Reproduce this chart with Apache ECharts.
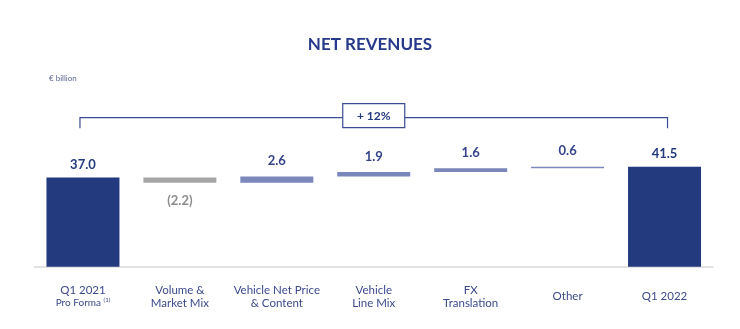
<!DOCTYPE html>
<html>
<head>
<meta charset="utf-8">
<style>
  html, body { margin: 0; padding: 0; background: #ffffff; }
  #chart { width: 740px; height: 329px; }
</style>
<script src="https://cdn.jsdelivr.net/npm/echarts@6/dist/echarts.min.js"></script>
</head>
<body>
<div id="chart"></div>
<script>
// Net revenues bridge, € billion
const categories = [
  'Q1 2021\nPro Forma',
  'Volume &\nMarket Mix',
  'Vehicle Net Price\n& Content',
  'Vehicle\nLine Mix',
  'FX\nTranslation',
  'Other',
  'Q1 2022'
];
const amounts = [37.0, -2.2, 2.6, 1.9, 1.6, 0.6, 41.5];
const kinds = ['total', 'delta', 'delta', 'delta', 'delta', 'delta', 'total'];
const growthLabel = '+ 12%';

const NAVY = '#233a7e';
const POS = '#7b86ba';
const NEG = '#a6a6a6';
const FONT = 'Lato, "Open Sans", sans-serif';

// floating base + visible segment for each bar
const baseVals = [];
const barVals = [];
let running = 0;
amounts.forEach(function (v, i) {
  if (kinds[i] === 'total') {
    baseVals.push(0);
    barVals.push(v);
    running = v;
  } else {
    const next = running + v;
    baseVals.push(+Math.min(running, next).toFixed(2));
    barVals.push(+Math.abs(v).toFixed(2));
    running = next;
  }
});
const topTotal = Math.max.apply(null, amounts.filter(function (v, i) { return kinds[i] === 'total'; }));

function fmt(v) {
  return v < 0 ? '(' + Math.abs(v).toFixed(1) + ')' : v.toFixed(1);
}

const visibleData = barVals.map(function (v, i) {
  const a = amounts[i];
  let color, labelColor, pos, dist;
  if (kinds[i] === 'total') { color = NAVY; labelColor = NAVY; pos = 'top'; dist = 6; }
  else if (a < 0) { color = NEG; labelColor = '#8c8c8c'; pos = 'bottom'; dist = 11; }
  else { color = POS; labelColor = '#34428a'; pos = 'top'; dist = 9; }
  return {
    value: v,
    itemStyle: { color: color },
    label: { show: true, position: pos, distance: dist, color: labelColor,
             formatter: fmt(a) }
  };
});

const chart = echarts.init(document.getElementById('chart'), null, { renderer: 'canvas' });

chart.setOption({
  animation: false,
  backgroundColor: '#ffffff',
  title: [
    {
      text: 'NET REVENUES',
      left: 'center',
      top: 31,
      textStyle: { fontFamily: FONT, fontSize: 17, fontWeight: 'bold', color: '#26398a' }
    },
    {
      text: '€ billion',
      left: 44,
      top: 69,
      textStyle: { fontFamily: FONT, fontSize: 8, fontWeight: 'normal', color: '#5c6594' }
    }
  ],
  grid: { left: 34.5, right: 27, top: 98, bottom: 62.3 },
  xAxis: {
    type: 'category',
    data: categories,
    axisLine: { lineStyle: { color: '#d9d9d9', width: 1.5 } },
    axisTick: { show: false },
    axisLabel: {
      interval: 0,
      margin: 30,
      verticalAlign: 'middle',
      fontFamily: FONT,
      fontSize: 11.5,
      lineHeight: 13,
      color: '#3c4a8c',
      formatter: function (val, idx) {
        if (idx === 0) {
          return '{a|Q1 2021}\n{b|Pro Forma }{s|(1)}';
        }
        return val;
      },
      rich: {
        a: { fontFamily: FONT, fontSize: 11.5, lineHeight: 13, color: '#3c4a8c' },
        b: { fontFamily: FONT, fontSize: 10, lineHeight: 13, color: '#3c4a8c' },
        s: { fontFamily: FONT, fontSize: 6, lineHeight: 13, verticalAlign: 'top', color: '#3c4a8c', padding: [0, 0, 5, 0] }
      }
    }
  },
  yAxis: {
    type: 'value',
    min: 0,
    max: 70,
    show: false,
    splitLine: { show: false }
  },
  series: [
    {
      type: 'bar',
      stack: 'bridge',
      data: baseVals,
      barWidth: 73,
      itemStyle: { color: 'transparent' },
      emphasis: { disabled: true },
      silent: true
    },
    {
      type: 'bar',
      stack: 'bridge',
      data: visibleData,
      barWidth: 73,
      label: {
        fontFamily: FONT,
        fontSize: 13,
        fontWeight: 'bold'
      }
    },
    {
      // growth bracket spanning the first and last totals
      type: 'custom',
      data: [[0, categories.length - 1]],
      silent: true,
      z: 5,
      renderItem: function (params, api) {
        const pTop = api.coord([0, topTotal]);
        const y = pTop[1] - 49;
        const x0 = api.coord([api.value(0), 0])[0] - 3;
        const x1 = api.coord([api.value(1), 0])[0] + 3;
        const tick = 10.5;
        const cx = (x0 + x1) / 2;
        const bw = 62, bh = 24;
        const line = { stroke: '#3b4c94', lineWidth: 1.2, fill: null };
        return {
          type: 'group',
          children: [
            { type: 'polyline', shape: { points: [[x0, y + tick], [x0, y], [cx - bw / 2, y]] }, style: line },
            { type: 'polyline', shape: { points: [[cx + bw / 2, y], [x1, y], [x1, y + tick]] }, style: line },
            {
              type: 'rect',
              shape: { x: cx - bw / 2, y: y - 14, width: bw, height: bh },
              style: { fill: '#ffffff', stroke: '#3b4c94', lineWidth: 1.2 }
            },
            {
              type: 'text',
              style: {
                x: cx, y: y - 2,
                text: growthLabel,
                align: 'center', verticalAlign: 'middle',
                fontFamily: FONT, fontSize: 12, fontWeight: 'bold',
                fill: NAVY
              }
            }
          ]
        };
      }
    }
  ]
});
</script>
</body>
</html>
